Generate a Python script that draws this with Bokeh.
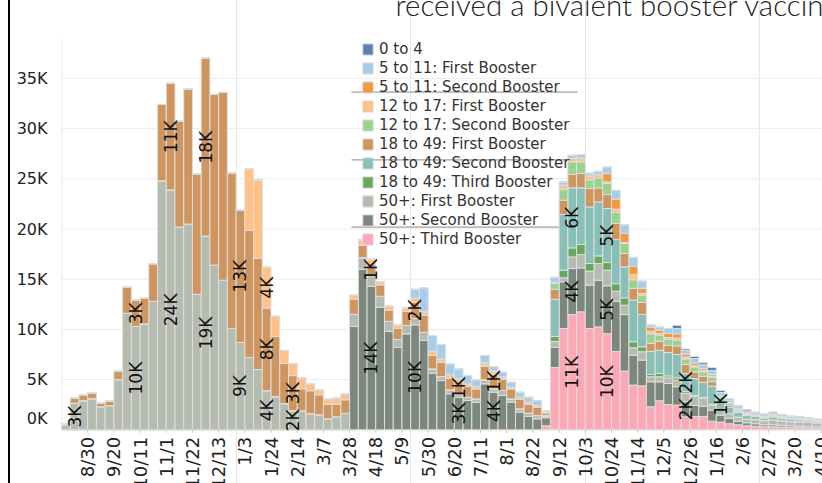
import math
import numpy as np
import pandas as pd
from bokeh.plotting import figure
from bokeh.models import (ColumnDataSource, Range1d, FixedTicker, Legend,
                          LegendItem, Label, Div)
from bokeh.layouts import row
from bokeh.core.properties import value
from bokeh.embed import file_html
from bokeh.resources import INLINE

# ---------------- data (thousands of doses per week) ----------------
weeks = pd.date_range("2021-08-09", periods=88, freq="7D")
week_labels = [f"{d.month}/{d.day}" for d in weeks]
tick_weeks = list(range(3, 88, 3))

s50_first = [0.5, 2.65, 2.9, 3.1, 2.3, 2.4, 5.0, 11.6, 10.3, 10.55, 12.8, 24.8, 23.9, 20.2, 20.5, 13.5,
             19.3, 16.4, 14.9, 10.1, 8.7, 7.2, 6.0, 3.9, 3.3, 2.6, 1.9, 1.9, 1.6, 1.5, 1.1, 1.3, 1.65,
             1.2, 1.15, 1.05, 1.1, 1.0, 0.8, 0.85, 0.65, 0.8, 0.43, 0.4, 0.4, 0.33, 0.33, 0.33, 0.4,
             0.33, 0.5, 0.33, 0.33, 0.33, 0.33,
             0.15, 0.6, 0.4, 1.16, 1.33, 1.39, 1.66, 1.56, 1.0, 0.93, 0.73, 0.83, 0.5, 0.5, 0.56, 0.66,
             0.8, 0.9, 0.8, 0.5, 0.5, 0.45, 0.4, 0.35, 0.4, 0.4, 0.45, 0.42, 0.4, 0.42, 0.4, 0.38, 0.38]
s50_second = [0] * 33 + [10.3, 16.0, 14.3, 12.2, 9.8, 8.2, 9.55, 10.45, 8.9, 5.64, 4.9, 3.58, 3.25,
                         2.92, 2.75, 4.58, 3.75, 3.42, 2.75, 1.76, 1.33, 1.09,
                         0.8, 2.0, 4.65, 4.58, 4.38, 4.32, 4.65, 4.75, 5.0, 5.64, 2.99, 2.56, 2.49,
                         1.89, 2.09, 1.83, 1.5, 1.1, 1.0, 1.1, 0.7, 0.55, 0.35, 0.3, 0.25, 0.2, 0.2,
                         0.18, 0.15, 0.15, 0.13, 0.12, 0.1]
s50_third = [0] * 55 + [0.4, 6.2, 10.09, 11.48, 11.75, 10.09, 10.25, 9.59, 7.8, 5.84, 4.45, 4.38,
                        2.29, 2.89, 2.52, 2.46, 1.3, 1.33, 1.33, 0.85, 0.76, 0.6, 0.5, 0.4, 0.35,
                        0.3, 0.3, 0.28, 0.25, 0.22, 0.2, 0.18, 0.15]
s1849_third = [0] * 55 + [0, 0.5, 0.76, 0.9, 1.0, 0.76, 0.76, 0.76, 0.75, 0.73, 0.6, 0.5, 0.23,
                          0.33, 0.2, 0.23, 0.2, 0.1, 0.1, 0.1, 0.05, 0.03, 0.02, 0.02, 0.02, 0.02,
                          0.02, 0.02, 0.02, 0.02, 0.02, 0.02, 0.02]
s1849_second = [0] * 55 + [0.1, 3.7, 5.54, 5.98, 5.64, 5.64, 5.38, 5.38, 4.4, 3.09, 4.15, 3.22,
                           2.3, 2.32, 2.32, 2.32, 1.8, 1.66, 1.5, 1.8, 1.0, 0.6, 0.45, 0.35, 0.3,
                           0.25, 0.3, 0.25, 0.2, 0.18, 0.15, 0.13, 0.12]
s1849_first = [0.05, 0.55, 0.6, 0.6, 0.4, 0.45, 0.85, 2.6, 2.6, 2.55, 3.75, 7.6, 10.6, 10.55, 13.45,
               12.0, 17.7, 17.0, 18.7, 15.5, 13.2, 12.7, 11.1, 8.25, 6.0, 4.0, 3.5, 2.2, 2.3, 2.0,
               1.45, 1.25, 1.35,
               1.5, 1.25, 1.16, 1.15, 1.1, 1.1, 1.4, 1.6, 1.7, 1.33, 1.43, 1.17, 1.17, 1.06, 1.0,
               1.36, 1.49, 1.1, 1.0, 0.93, 0.86, 0.83,
               0.25, 1.0, 1.43, 1.33, 1.43, 1.83, 1.39, 1.39, 1.6, 1.33, 1.16, 1.2, 0.8, 0.9, 0.73,
               0.86, 0.9, 0.66, 0.6, 0.45, 0.05, 0.2, 0.15, 0.1, 0.08, 0.07, 0.07, 0.06, 0.05, 0.05,
               0.04, 0.04, 0.03]
s1217_second = [0] * 55 + [0, 0.6, 1.1, 1.26, 1.16, 0.86, 1.0, 1.11, 1.1, 1.0, 0.86, 0.73, 0.95,
                           0.6, 0.6, 0.56, 0.55, 0.5, 0.45, 0.45, 0.25, 0.2, 0.12, 0.1, 0.08, 0.07,
                           0.08, 0.06, 0.06, 0.05, 0.05, 0.04, 0.04]
s1217_first = ([0] * 21 + [6.1, 7.8, 4.05, 2.0, 1.3, 1.2, 1.1, 0.7, 0.5, 0.55, 0.65, 0.55]
               + [0.45, 0.5, 0.5, 0.3, 0.4, 0.35, 0.35, 0.4, 0.35, 0.43, 0.33, 0.33, 0.33, 0.27,
                  0.23, 0.33, 0.3, 0.25, 0.17, 0.23, 0.23, 0.17]
               + [0.1, 0.1, 0.4, 0.33, 0.4, 0.4, 0.33, 0.15, 0.33, 0.1, 0.5, 0.17, 0.25, 0.17,
                  0.17, 0.23, 0.2, 0.15, 0.1, 0.1] + [0] * 13)
s511_second = [0] * 62 + [0.83, 1.0, 0.9, 0.83, 0.5, 0.4, 0.33, 0.4, 0.4, 0.3, 0.25, 0.2, 0.15, 0,
                          0.1, 0.1, 0.05, 0.05, 0.05, 0.06, 0.05, 0.04, 0.04, 0.03, 0.03, 0.03]
s511_first = ([0] * 39 + [0.0, 0.9, 2.4, 1.56, 1.43, 1.09, 0.99, 0.83, 0.67, 0.73, 0.43, 0.47, 0.49,
                          0.5, 0.5, 0.5]
              + [0.1, 0.5, 0.33, 0.33, 0.33, 0.27, 0.33, 0.66, 0.86, 0.86, 0.9, 0.73, 0.25, 0.33,
                 0.5, 0.53, 0.35, 0.45, 0.4, 0.4, 0.4, 0.25, 0.25, 0.2, 0.2, 0.2, 0.2, 0.17, 0.16,
                 0.15, 0.15, 0.14, 0.12])
s0to4 = [0] * 70 + [0.33, 0.15, 0.2, 0.2, 0.3, 0.2, 0.1, 0.1, 0.14, 0.05, 0.05, 0.1, 0.05, 0.05,
                    0.06, 0.04, 0.03, 0.03]

# legend order (top to bottom) with colours
series_names = ["0 to 4", "5 to 11: First Booster", "5 to 11: Second Booster",
                "12 to 17: First Booster", "12 to 17: Second Booster",
                "18 to 49: First Booster", "18 to 49: Second Booster", "18 to 49: Third Booster",
                "50+: First Booster", "50+: Second Booster", "50+: Third Booster"]
series_values = [s0to4, s511_first, s511_second, s1217_first, s1217_second,
                 s1849_first, s1849_second, s1849_third, s50_first, s50_second, s50_third]
series_colors = ["#5B7FAE", "#A8CDEA", "#F39A3F", "#FFC186", "#9AD48C",
                 "#CF955F", "#88C0B8", "#66A95E", "#B6BBB0", "#7C877D", "#FDA9B5"]

# value labels: (week index, series, text)
label_week = [1, 8, 8, 12, 12, 16, 16, 20, 20, 23, 23, 23, 26, 26, 35, 35, 40, 40, 45, 45, 49, 49,
              58, 58, 58, 62, 62, 62, 71, 71, 75]
label_series = ["50+: First Booster", "50+: First Booster", "18 to 49: First Booster",
                "50+: First Booster", "18 to 49: First Booster",
                "50+: First Booster", "18 to 49: First Booster",
                "50+: First Booster", "18 to 49: First Booster",
                "50+: First Booster", "18 to 49: First Booster", "12 to 17: First Booster",
                "50+: First Booster", "18 to 49: First Booster",
                "50+: Second Booster", "18 to 49: First Booster",
                "50+: Second Booster", "18 to 49: First Booster",
                "50+: Second Booster", "18 to 49: First Booster",
                "50+: Second Booster", "18 to 49: First Booster",
                "50+: Third Booster", "50+: Second Booster", "18 to 49: Second Booster",
                "50+: Third Booster", "50+: Second Booster", "18 to 49: Second Booster",
                "50+: Second Booster", "18 to 49: Second Booster", "18 to 49: Second Booster"]
label_text = ["3K", "10K", "3K", "24K", "11K", "19K", "18K", "9K", "13K", "4K", "8K", "4K",
              "2K", "3K", "14K", "1K", "10K", "2K", "3K", "1K", "4K", "1K",
              "11K", "4K", "6K", "10K", "5K", "5K", "2K", "2K", "1K"]

title_text = "received a bivalent booster vaccine"

for s in series_values:
    assert len(s) == 88, len(s)

FONT = "DejaVu Sans"
PX_W = 8.73     # pixels per week
PX_K = 10.04    # pixels per thousand

W, H = 812, 483
border_left = 51
base_px = 429.3           # pixel row of the zero line
frame_w = W - border_left
axis_top = 38.94          # top of the plotting pane in thousands

# ---------------- figure ----------------
p = figure(width=W, height=H, output_backend="svg", toolbar_location=None,
           x_axis_location=None,
           x_range=Range1d(0, frame_w / PX_W),
           y_range=Range1d(-(H - base_px) / PX_K, base_px / PX_K),
           min_border_left=border_left, min_border_right=0, min_border_top=0,
           min_border_bottom=0)
p.outline_line_color = None
p.background_fill_color = "white"
p.border_fill_color = "white"

stack_names = list(reversed(series_names))
stack_keys = [f"s{k}" for k in range(len(stack_names))]
data = {"x": [i + 0.5 for i in range(88)]}
for k, name in zip(stack_keys, stack_names):
    data[k] = series_values[series_names.index(name)]
src = ColumnDataSource(data)

# horizontal grid lines (pane only)
yt = [0, 5, 10, 15, 20, 25, 30, 35]
p.ygrid.grid_line_color = None
p.segment(x0=[0] * len(yt), x1=[frame_w / PX_W] * len(yt), y0=yt, y1=yt,
          line_color="#ececec", line_width=1)
# left pane edge line
p.segment(x0=[0.03], x1=[0.03], y0=[0], y1=[axis_top], line_color="#e2e2e2", line_width=1)

# faint separator rules seen over the legend area
rule_y_px = [91.7, 159.3, 226.7]
p.segment(x0=[(351 - 61) / PX_W] * 3, x1=[(577 - 61) / PX_W] * 3,
          y0=[(base_px - y) / PX_K for y in rule_y_px], y1=[(base_px - y) / PX_K for y in rule_y_px],
          line_color="#a0a0a0", line_width=1.3)

rends = p.vbar_stack(stack_keys, x="x", width=1.0, source=src,
                     fill_color=[series_colors[series_names.index(n)] for n in stack_names],
                     line_color="#dedede", line_width=1)

# value labels at segment centres
lx, ly = [], []
for w, sname in zip(label_week, label_series):
    idx = stack_names.index(sname)
    below = sum(data[stack_keys[j]][w] for j in range(idx))
    lx.append(w + 0.5)
    ly.append(below + data[stack_keys[idx]][w] / 2)
lsrc = ColumnDataSource(dict(x=lx, y=ly, t=label_text))
p.text(x="x", y="y", text="t", source=lsrc, angle=math.pi / 2, text_align="center",
       text_baseline="middle", text_font=value(FONT), text_font_size="17px", text_color="#111111")

# date axis: tick marks and rotated labels under the zero line
tsrc = ColumnDataSource(dict(x=tick_weeks, lab=[week_labels[t] for t in tick_weeks]))
p.segment(x0="x", x1="x", y0=0, y1=-3 / PX_K, source=tsrc, line_color="#c8c8c8", line_width=1)
p.text(x="x", y=-7 / PX_K, text="lab", source=tsrc, angle=math.pi / 2, text_align="right",
       text_baseline="middle", text_font=value(FONT), text_font_size="18px", text_color="#222222")

# value axis
zero_pos = (base_px - 418) / PX_K      # the "0K" label sits nudged up inside the pane
ylab_ticks = [zero_pos] + yt[1:]
p.yaxis.ticker = FixedTicker(ticks=ylab_ticks)
p.yaxis.major_label_overrides = {t: ("0K" if t == zero_pos else f"{int(t)}K") for t in ylab_ticks}
p.yaxis.axis_line_color = None
p.yaxis.major_tick_line_color = None
p.yaxis.minor_tick_line_color = None
p.yaxis.major_label_standoff = 8
p.yaxis.major_label_text_font = FONT
p.yaxis.major_label_text_font_size = "16px"
p.yaxis.major_label_text_color = "#222222"

# title (cut off at the top of the view)
p.add_layout(Label(x=(395 - 61) / PX_W, y=(base_px - 3.5) / PX_K, text=title_text,
                   text_align="left", text_baseline="alphabetic", text_font="Lato Light, Lato",
                   text_font_size="29.5px", text_color="#222222"))

# legend
items = [LegendItem(label=n, renderers=[rends[stack_names.index(n)]]) for n in series_names]
legend = Legend(items=items, location=(300, 181 + (H - base_px)), orientation="vertical",
                padding=0, margin=0, spacing=0, glyph_width=13, glyph_height=14, label_height=19,
                label_standoff=5, label_text_font=FONT, label_text_font_size="15px",
                label_text_color="#333333", background_fill_alpha=0, border_line_color=None)
p.add_layout(legend)

bar = Div(width=2, height=H, margin=(0, 0, 0, 8), styles={"background-color": "#000000"})
layout = row(bar, p, spacing=0)

open("out.html", "w").write(file_html(layout, INLINE))
